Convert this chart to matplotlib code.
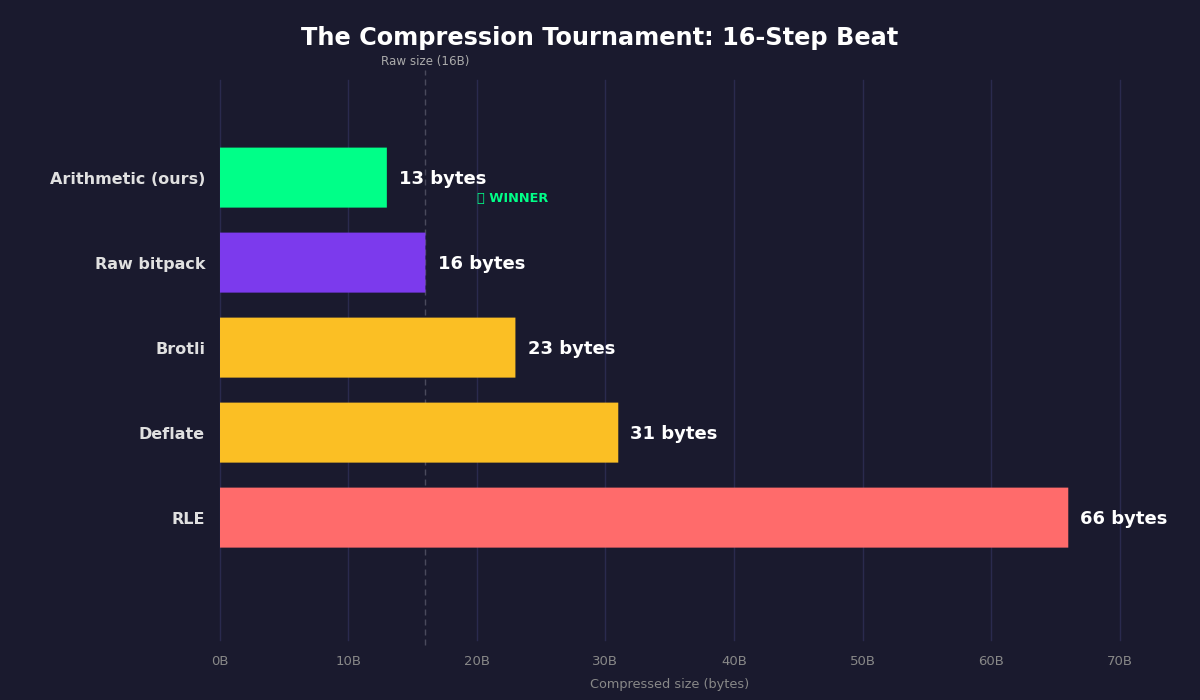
import matplotlib
matplotlib.use("Agg")
import matplotlib.pyplot as plt

# dane z wykresu
names = ["Arithmetic (ours)", "Raw bitpack", "Brotli", "Deflate", "RLE"]
sizes = [13, 16, 23, 31, 66]
colors = ["#00ff88", "#7c3aed", "#fbbf24", "#fbbf24", "#ff6b6b"]
x_ticks = [0, 10, 20, 30, 40, 50, 60, 70]
raw_size = 16

BG = "#1a1a2e"

fig = plt.figure(figsize=(12, 7), dpi=100, facecolor=BG)
ax = fig.add_axes([219.7 / 1200, 60.4 / 700, 900 / 1200, 560 / 700], facecolor=BG)

ax.barh(range(len(names)), sizes, height=0.706, color=colors, snap=False, zorder=3)
ax.set_xlim(0, 70)
ax.set_ylim(5.435, -1.153)

for x in x_ticks:
    ax.axvline(x, color="#2a2a4e", linewidth=1, clip_on=False, zorder=1)

# linia surowego rozmiaru
ax.axvline(raw_size, ymin=-0.009, ymax=1.018, color="#4a4a5c", linewidth=1,
           dashes=(4.3, 2.9), clip_on=False, zorder=2)
ax.annotate("Raw size (16B)", xy=(raw_size, 1), xycoords=("data", "axes fraction"),
            xytext=(0, 13.2), textcoords="offset points", ha="center", va="center",
            color="#aaaaaa", fontsize=8.6)

for i, v in enumerate(sizes):
    ax.annotate(f"{v} bytes", xy=(v, i), xytext=(8.8, -1.0), textcoords="offset points",
                ha="left", va="center", color="white", fontsize=13, fontweight="bold",
                annotation_clip=False, zorder=4)

ax.annotate("\U0001F3C6 WINNER", xy=(sizes[0], 0), xytext=(65.2, -15.0), textcoords="offset points",
            ha="left", va="center", color="#00ff88", fontsize=9.3, fontweight="bold", zorder=4)

ax.set_xticks(x_ticks)
ax.set_xticklabels([f"{x}B" for x in x_ticks], color="#888888", fontsize=9.5)
ax.set_yticks(range(len(names)))
ax.set_yticklabels(names, color="#e0e0e0", fontsize=11.5, fontweight="bold")
ax.tick_params(axis="x", length=0, pad=11)
ax.tick_params(axis="y", length=0, pad=10.5)
ax.set_xlabel("Compressed size (bytes)", color="#888888", fontsize=9.3, labelpad=7.6)
for s in ax.spines.values():
    s.set_visible(False)

fig.text(0.5, 1 - 38 / 700, "The Compression Tournament: 16-Step Beat", color="white",
         fontsize=17.25, fontweight="bold", ha="center", va="center")

fig.savefig("out.png", facecolor=BG)
